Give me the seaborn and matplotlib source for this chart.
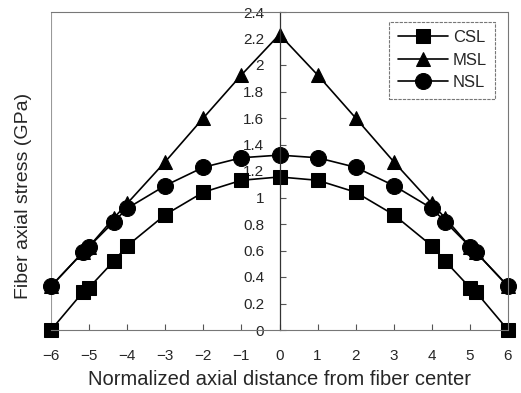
import numpy as np
import pandas as pd
import matplotlib
matplotlib.use("Agg")
import matplotlib.pyplot as plt
import seaborn as sns

# ---- data ----
x_pos = [-6, -5.15, -5.0, -4.35, -4, -3, -2, -1, 0, 1, 2, 3, 4, 4.35, 5.0, 5.15, 6]
csl = [0.0, 0.29, 0.32, 0.52, 0.635, 0.87, 1.04, 1.13, 1.155, 1.13, 1.04, 0.87, 0.635, 0.52, 0.32, 0.29, 0.0]
msl = [0.33, 0.59, 0.63, 0.845, 0.955, 1.27, 1.60, 1.925, 2.23, 1.925, 1.60, 1.27, 0.955, 0.845, 0.63, 0.59, 0.33]
nsl = [0.33, 0.59, 0.63, 0.817, 0.918, 1.09, 1.228, 1.30, 1.32, 1.30, 1.228, 1.09, 0.918, 0.817, 0.63, 0.59, 0.33]
series_names = ["CSL", "MSL", "NSL"]
series_markers = {"CSL": "s", "MSL": "^", "NSL": "o"}
series_msize = {"CSL": 10, "MSL": 10, "NSL": 11.5}
x_ticks = [-6, -5, -4, -3, -2, -1, 0, 1, 2, 3, 4, 5, 6]
y_ticks = [0, 0.2, 0.4, 0.6, 0.8, 1.0, 1.2, 1.4, 1.6, 1.8, 2.0, 2.2, 2.4]
y_ticklabels = ["0", "0.2", "0.4", "0.6", "0.8", "1", "1.2", "1.4", "1.6", "1.8", "2", "2.2", "2.4"]
x_ticklabels = ["\u22126", "\u22125", "\u22124", "\u22123", "\u22122", "\u22121", "0", "1", "2", "3", "4", "5", "6"]

df = pd.DataFrame({"x": x_pos, "CSL": csl, "MSL": msl, "NSL": nsl})

sns.set_style("white")
plt.rcParams["font.family"] = ["Liberation Sans", "DejaVu Sans"]

fig = plt.figure(figsize=(5.21, 3.93), dpi=100)
ax = fig.add_axes([51 / 521, 1 - 330 / 393, 457 / 521, 318 / 393])

for name in series_names:
    sns.lineplot(data=df, x="x", y=name, ax=ax, color="black", linewidth=1.2,
                 marker=series_markers[name], markersize=series_msize[name],
                 markeredgecolor="black", markerfacecolor="black",
                 label=name, sort=True)

for ln in ax.lines:
    ln.set_clip_on(False)

ax.set_xlim(-6, 6)
ax.set_ylim(0, 2.4)
ax.set_xticks(x_ticks)
ax.set_xticklabels(x_ticklabels)
ax.set_yticks(y_ticks)
ax.set_yticklabels(y_ticklabels)

# y axis drawn through x = 0
ax.spines["left"].set_position(("data", 0))
ax.spines["left"].set_color("#333333")
ax.spines["left"].set_linewidth(0.9)
for s in ["top", "right", "bottom"]:
    ax.spines[s].set_color("#777777")
    ax.spines[s].set_linewidth(0.8)
    ax.spines[s].set_linestyle((0, (3, 1)))
ax.axvline(-6, color="#999999", linewidth=0.8, zorder=0)

ax.tick_params(axis="y", direction="in", length=4, width=0.8, color="#555555",
               labelsize=11, pad=11, left=True)
ax.tick_params(axis="x", direction="in", length=4, width=0.8, color="#555555",
               labelsize=11, pad=14, bottom=True)

ax.set_xlabel("Normalized axial distance from fiber center", fontsize=14.5, labelpad=5)
ax.set_ylabel("")
fig.text(24 / 521, 1 - 196 / 393, "Fiber axial stress (GPa)", rotation=90,
         fontsize=14, ha="center", va="center")

handles, labels = ax.get_legend_handles_labels()
leg = ax.legend(handles, labels, loc="upper right", bbox_to_anchor=(0.972, 0.969),
                borderaxespad=0, fancybox=False, fontsize=12, handlelength=3.0,
                labelspacing=0.45, handletextpad=0.3, borderpad=0.5, frameon=True)
leg.get_frame().set_edgecolor("#555555")
leg.get_frame().set_linewidth(0.8)
leg.get_frame().set_linestyle((0, (3, 1)))

fig.savefig("out.png", dpi=100)
